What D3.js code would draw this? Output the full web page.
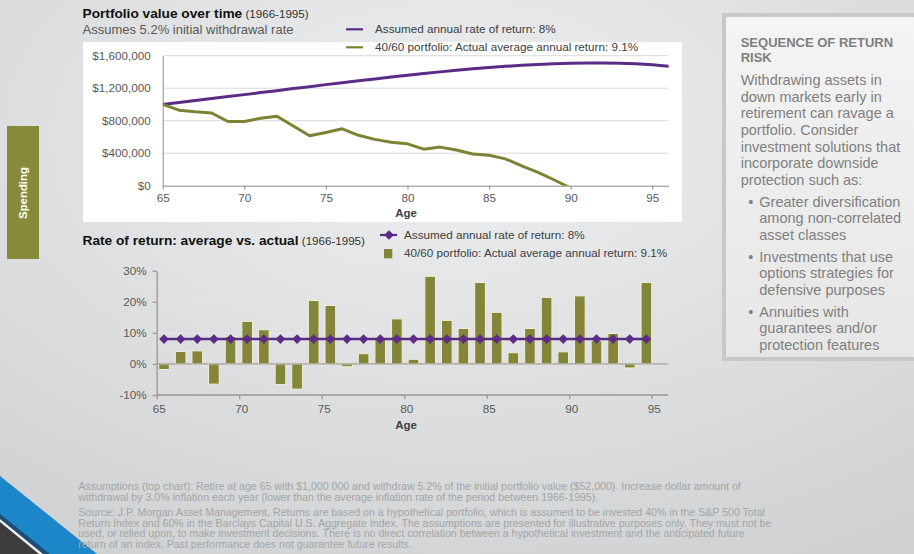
<!DOCTYPE html>
<html><head><meta charset="utf-8">
<script src="https://cdn.jsdelivr.net/npm/d3@7"></script>
<style>
html,body{margin:0;padding:0;background:#dfe0e1;}
svg{display:block;font-family:"Liberation Sans",Arial,sans-serif;}
</style></head>
<body>
<svg id="c" width="914" height="554"></svg>
<script>
// ---------- DATA ----------
const valueAges = [65,66,67,68,69,70,71,72,73,74,75,76,77,78,79,80,81,82,83,84,85,86,87,88,89,90,91,92,93,94,95,96];
const assumedValue = [1000000,1024000,1048000,1072000,1097000,1121000,1146000,1170000,1195000,1219000,1244000,1268000,1291000,1314000,1337000,1359000,1380000,1401000,1420000,1438000,1454000,1469000,1482000,1493000,1502000,1508000,1511000,1511000,1507000,1500000,1488000,1470000];
const actualAges = [65,66,67,68,69,70,71,72,73,74,75,76,77,78,79,80,81,82,83,84,85,86,87,88,89,90];
const actualValue = [1000000,930000,910000,895000,790000,790000,830000,855000,735000,615000,655000,700000,620000,570000,535000,515000,450000,475000,440000,390000,375000,330000,245000,165000,70000,-30000];
const years = [1966,1967,1968,1969,1970,1971,1972,1973,1974,1975,1976,1977,1978,1979,1980,1981,1982,1983,1984,1985,1986,1987,1988,1989,1990,1991,1992,1993,1994,1995];
const actualReturn = [-1.8,4.0,4.2,-6.5,8.8,13.7,11.0,-6.6,-8.1,20.4,18.8,-0.9,3.3,8.4,14.5,1.5,28.2,14.0,11.4,26.2,16.6,3.6,11.4,21.4,3.9,21.9,7.5,9.8,-1.3,26.2];
const assumedReturn = [8,8,8,8,8,8,8,8,8,8,8,8,8,8,8,8,8,8,8,8,8,8,8,8,8,8,8,8,8,8];
const ageTicks = [65,70,75,80,85,90,95];
const valueTicks = [0,400000,800000,1200000,1600000];
const valueTickLabels = ["$0","$400,000","$800,000","$1,200,000","$1,600,000"];
const returnTicks = [-10,0,10,20,30];
const returnTickLabels = ["-10%","0%","10%","20%","30%"];
const legendLabels = ["Assumed annual rate of return: 8%","40/60 portfolio: Actual average annual return: 9.1%"];
const sideHeading = ["SEQUENCE OF RETURN","RISK"];
const sideBody = ["Withdrawing assets in","down markets early in","retirement can ravage a","portfolio. Consider","investment solutions that","incorporate downside","protection such as:"];
const sideBullets = [["Greater diversification","among non-correlated","asset classes"],["Investments that use","options strategies for","defensive purposes"],["Annuities with","guarantees and/or","protection features"]];
const footerLines = [
 "Assumptions (top chart): Retire at age 65 with $1,000 000 and withdraw 5.2% of the initial portfolio value ($52,000). Increase dollar amount of",
 "withdrawal by 3.0% inflation each year (lower than the average inflation rate of the period between 1966-1995)."];
const sourceLines = [
 "Source: J.P. Morgan Asset Management. Returns are based on a hypothetical portfolio, which is assumed to be invested 40% in the S&P 500 Total",
 "Return Index and 60% in the Barclays Capital U.S. Aggregate Index. The assumptions are presented for illustrative purposes only. They must not be",
 "used, or relied upon, to make investment decisions. There is no direct correlation between a hypothetical investment and the anticipated future",
 "return of an index. Past performance does not guarantee future results."];

// ---------- STYLE ----------
const PURPLE = "#5b2c86", GREEN = "#7e8333", BAR = "#838639", TXT = "#595959";
const svg = d3.select("#c");
const defs = svg.append("defs");
const bg = defs.append("radialGradient").attr("id","bg").attr("cx","0.5").attr("cy","0.25").attr("r","0.85");
bg.append("stop").attr("offset","0").attr("stop-color","#eeeff0");
bg.append("stop").attr("offset","1").attr("stop-color","#cfd1d2");
const pg = defs.append("linearGradient").attr("id","pg").attr("x1","0").attr("y1","0").attr("x2","0").attr("y2","1");
pg.append("stop").attr("offset","0").attr("stop-color","#f4f4f4");
pg.append("stop").attr("offset","1").attr("stop-color","#e6e6e6");

svg.append("rect").attr("width",914).attr("height",554).attr("fill","url(#bg)");

// left tab
svg.append("rect").attr("x",7).attr("y",126).attr("width",32).attr("height",133).attr("fill","#878a3b");
svg.append("text").attr("transform","translate(23,193) rotate(-90)").attr("text-anchor","middle")
  .attr("dy","0.36em").attr("fill","#fff").attr("font-weight","bold").attr("font-size",11.4).text("Spending");

// bottom-left corner decoration
svg.append("path").attr("d","M0,476 L97,554 L0,554 Z").attr("fill","#1b86c8");
svg.append("path").attr("d","M0,514 L50,554 L0,554 Z").attr("fill","#1c4f73");
svg.append("path").attr("d","M0,519 L43,554 L0,554 Z").attr("fill","#f0f0f0");
svg.append("path").attr("d","M0,522 L39,554 L0,554 Z").attr("fill","#3c3c3c");

// ---------- TOP CHART ----------
svg.append("rect").attr("x",83).attr("y",42).attr("width",599).attr("height",180).attr("fill","#ffffff");
const t1 = svg.append("text").attr("x",82.5).attr("y",18.3).attr("fill","#111");
t1.append("tspan").attr("font-weight","bold").attr("font-size",13.7).text("Portfolio value over time");
t1.append("tspan").attr("font-size",11.6).attr("fill","#333").text(" (1966-1995)");
svg.append("text").attr("x",82.5).attr("y",33.5).attr("font-size",13).attr("fill",TXT).text("Assumes 5.2% initial withdrawal rate");

// top legend
[PURPLE,GREEN].forEach((c,i)=>{
  const y = 29.3 + i*18;
  svg.append("line").attr("x1",346).attr("x2",363).attr("y1",y).attr("y2",y).attr("stroke",c).attr("stroke-width",2.2);
  svg.append("text").attr("x",375).attr("y",y+3.7).attr("font-size",11.7).attr("fill","#404040").text(legendLabels[i]);
});

const xT = d3.scaleLinear().domain([65,96]).range([162.7,668.6]);
const yT = d3.scaleLinear().domain([0,1600000]).range([185.7,55.7]);
const gT = svg.append("g");
gT.selectAll("line.grid").data(valueTicks.slice(1)).join("line").attr("class","grid")
  .attr("x1",xT(65)).attr("x2",xT(96)).attr("y1",d=>yT(d)).attr("y2",d=>yT(d))
  .attr("stroke","#dadada").attr("stroke-width",1);
const yAxT = d3.axisLeft(yT).tickValues(valueTicks).tickFormat((d,i)=>valueTickLabels[i]).tickSize(0).tickPadding(12);
const gy = gT.append("g").attr("transform",`translate(${xT(65)},0)`).call(yAxT);
const xAxT = d3.axisBottom(xT).tickValues(ageTicks).tickFormat(d3.format("d")).tickSizeInner(4).tickSizeOuter(0).tickPadding(4);
const gx = gT.append("g").attr("transform",`translate(0,${yT(0)})`).call(xAxT);
[gy,gx].forEach(g=>{
  g.select(".domain").attr("stroke","#8c8c8c");
  g.selectAll(".tick line").attr("stroke","#8c8c8c");
  g.selectAll("text").attr("font-size",11.7).attr("fill",TXT).attr("font-family","Liberation Sans, Arial, sans-serif");
});
svg.append("text").attr("x",406).attr("y",216.5).attr("text-anchor","middle").attr("font-weight","bold").attr("font-size",11.5).attr("fill","#404040").text("Age");

defs.append("clipPath").attr("id","clipT").append("rect").attr("x",xT(65)).attr("y",40).attr("width",xT(96)-xT(65)+2).attr("height",yT(0)-40);
const lineT = d3.line().x(d=>xT(d[0])).y(d=>yT(d[1]));
gT.append("path").datum(valueAges.map((a,i)=>[a,assumedValue[i]])).attr("d",lineT)
  .attr("fill","none").attr("stroke",PURPLE).attr("stroke-width",3).attr("clip-path","url(#clipT)");
gT.append("path").datum(actualAges.map((a,i)=>[a,actualValue[i]])).attr("d",lineT)
  .attr("fill","none").attr("stroke",GREEN).attr("stroke-width",3).attr("stroke-linejoin","round").attr("clip-path","url(#clipT)");

// ---------- BOTTOM CHART ----------
const t2 = svg.append("text").attr("x",82.5).attr("y",245).attr("fill","#111");
t2.append("tspan").attr("font-weight","bold").attr("font-size",13.7).text("Rate of return: average vs. actual");
t2.append("tspan").attr("font-size",11.6).attr("fill","#333").text(" (1966-1995)");

// bottom legend
svg.append("line").attr("x1",380).attr("x2",397).attr("y1",235).attr("y2",235).attr("stroke",PURPLE).attr("stroke-width",2.2);
svg.append("path").attr("transform","translate(389,235)").attr("d",d3.symbol(d3.symbolDiamond2,60)).attr("fill",PURPLE);
svg.append("text").attr("x",404).attr("y",238.5).attr("font-size",11.7).attr("fill","#404040").text(legendLabels[0]);
svg.append("rect").attr("x",384).attr("y",249).attr("width",8.3).attr("height",9.3).attr("fill",BAR);
svg.append("text").attr("x",404).attr("y",256.7).attr("font-size",11.7).attr("fill","#404040").text(legendLabels[1]);

const xB = d3.scaleLinear().domain([65,96]).range([156.7,668.2]);
const yB = d3.scaleLinear().domain([-10,30]).range([395,270.7]);
const band = d3.scaleBand().domain(years).range([xB(65)-1, xB(95)+3]).padding(0);
const gB = svg.append("g");
gB.selectAll("line.grid").data([10,20,30]).join("line").attr("class","grid")
  .attr("x1",xB(65)).attr("x2",xB(96)).attr("y1",d=>yB(d)).attr("y2",d=>yB(d))
  .attr("stroke","#e4e5e6").attr("stroke-width",1.2);
const bw = band.bandwidth()*0.64;
gB.selectAll("rect.bar").data(years).join("rect").attr("class","bar")
  .attr("x",(d)=>band(d)+(band.bandwidth()-bw)/2)
  .attr("width",bw)
  .attr("y",(d,i)=>yB(Math.max(0,actualReturn[i])))
  .attr("height",(d,i)=>Math.abs(yB(actualReturn[i])-yB(0)))
  .attr("fill",BAR).attr("stroke","#eef0d8").attr("stroke-width",1);
gB.append("line").attr("x1",xB(65)).attr("x2",xB(96)).attr("y1",yB(0)).attr("y2",yB(0)).attr("stroke","#a59f98").attr("stroke-width",1.2);
const yAxB = d3.axisLeft(yB).tickValues(returnTicks).tickFormat((d,i)=>returnTickLabels[i]).tickSizeInner(4).tickSizeOuter(0).tickPadding(6);
const gyB = gB.append("g").attr("transform",`translate(${xB(65)},0)`).call(yAxB);
const xAxB = d3.axisBottom(xB).tickValues(ageTicks).tickFormat(d3.format("d")).tickSizeInner(4).tickSizeOuter(0).tickPadding(6);
const gxB = gB.append("g").attr("transform",`translate(0,${yB(-10)})`).call(xAxB);
gxB.select(".domain").attr("d",`M${xB(65)},0H${xB(96)}`);
[gyB,gxB].forEach(g=>{
  g.select(".domain").attr("stroke","#9d968f").attr("stroke-width",1.3);
  g.selectAll(".tick line").attr("stroke","#9d968f").attr("stroke-width",1.3);
  g.selectAll("text").attr("font-size",11.7).attr("fill",TXT).attr("font-family","Liberation Sans, Arial, sans-serif");
});
gxB.selectAll(".tick text").attr("dx",2);
svg.append("text").attr("x",406).attr("y",428.5).attr("text-anchor","middle").attr("font-weight","bold").attr("font-size",11.5).attr("fill","#404040").text("Age");

const lineB = d3.line().x((d,i)=>band(years[i])+band.bandwidth()/2).y(d=>yB(d));
gB.append("path").datum(assumedReturn).attr("d",lineB).attr("fill","none").attr("stroke",PURPLE).attr("stroke-width",2.4);
gB.selectAll("path.dia").data(assumedReturn).join("path").attr("class","dia")
  .attr("transform",(d,i)=>`translate(${band(years[i])+band.bandwidth()/2},${yB(d)})`)
  .attr("d",d3.symbol(d3.symbolDiamond2,60)).attr("fill",PURPLE);

// ---------- SIDE PANEL ----------
svg.append("rect").attr("x",724).attr("y",15).attr("width",200).attr("height",344)
  .attr("fill","url(#pg)").attr("stroke","#c8c8c8").attr("stroke-width",4);
const SIDE = "#7f7f7f";
sideHeading.forEach((t,i)=>svg.append("text").attr("x",740.7).attr("y",47+i*14.7).attr("font-size",13).attr("font-weight","bold").attr("fill",SIDE).text(t));
sideBody.forEach((t,i)=>svg.append("text").attr("x",740.7).attr("y",85+i*16.67).attr("font-size",14.5).attr("fill",SIDE).text(t));
let by = 206.7;
sideBullets.forEach(b=>{
  svg.append("text").attr("x",748.3).attr("y",by).attr("font-size",14.5).attr("fill",SIDE).text("•");
  b.forEach((t,j)=>svg.append("text").attr("x",759.3).attr("y",by+j*16.67).attr("font-size",14.5).attr("fill",SIDE).text(t));
  by += 3*16.67 + 5;
});

// ---------- FOOTER ----------
footerLines.forEach((t,i)=>svg.append("text").attr("x",78.3).attr("y",490+i*10.7).attr("font-size",10.6).attr("fill","#a3a5a7").text(t));
sourceLines.forEach((t,i)=>svg.append("text").attr("x",78.3).attr("y",516+i*10.7).attr("font-size",10.6).attr("fill","#a3a5a7").text(t));
</script>
</body></html>
